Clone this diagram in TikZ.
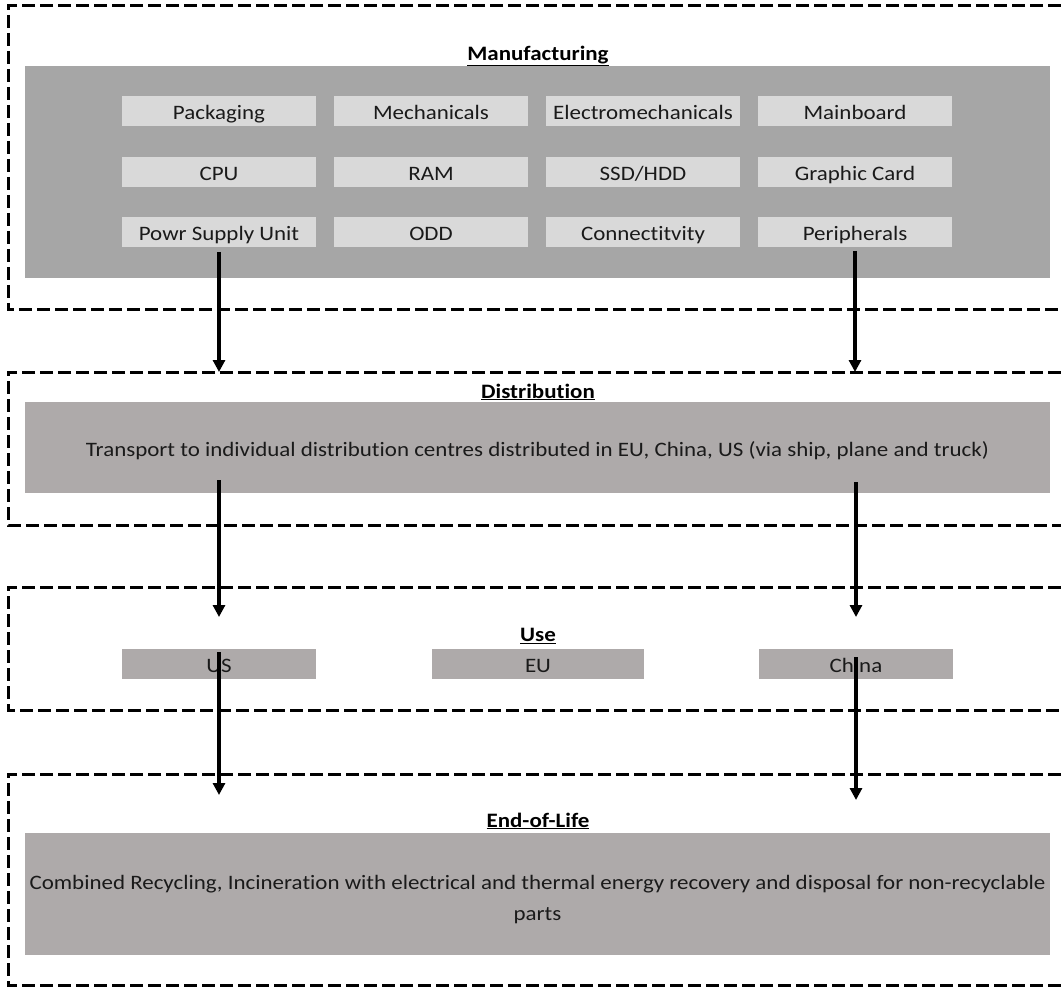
\documentclass[tikz,border=0pt]{standalone}
\usepackage{fontspec}
\setmainfont{Carlito}[FakeStretch=1.12, Ligatures=NoCommon]
\usetikzlibrary{positioning}
\usetikzlibrary{arrows.meta}
\definecolor{mfggray}{HTML}{A6A6A6}
\definecolor{cellgray}{HTML}{D9D9D9}
\definecolor{stagegray}{HTML}{AEAAAA}
\definecolor{inkgray}{HTML}{1A1A1A}
\tikzset{framebox/.style={rectangle, draw=none, minimum width=1053pt, inner sep=0pt, outer sep=0pt, anchor=north west}, frameline/.style={line width=3pt, dash pattern=on 13pt off 5pt}}

\begin{document}
\begin{tikzpicture}[
    x=1pt, y=-1pt,
    node distance=18pt,
    font=\fontsize{20.5}{31}\selectfont,
    cell/.style={rectangle, fill=cellgray, text=inkgray, minimum width=194pt, minimum height=30pt, inner sep=0pt, outer sep=0pt, text height=22pt, text depth=4.5pt},
    stage/.style={rectangle, fill=stagegray, text=inkgray, minimum width=1025pt, inner sep=0pt, outer sep=0pt},
    region/.style={rectangle, fill=stagegray, text=inkgray, minimum height=30pt, inner sep=0pt, outer sep=0pt, text height=22pt, text depth=4.5pt},
    title/.style={font=\fontsize{20.5}{24}\selectfont\bfseries, inner sep=0pt},
    arrow/.style={-{Triangle[width=12pt,length=12pt]}, line width=3.2pt}
]
\useasboundingbox (0,0) rectangle (1061,987);

% Frames
\node[framebox, minimum height=304pt] (mfgframe) at (8,6) {};
\node[framebox, minimum height=153pt] (distframe) at (8,372) {};
\node[framebox, minimum height=123pt] (useframe) at (8,587) {};
\node[framebox, minimum height=211pt] (eolframe) at (8,774) {};
\foreach \f in {mfgframe, distframe, useframe, eolframe}
  \draw[frameline] (\f.north east) -- (\f.north west) -- (\f.south west) -- (\f.south east);

% Manufacturing
\node[title] (mfgtitle) at (538,56) {\underline{Manufacturing}};
\node[rectangle, fill=mfggray, minimum width=1025pt, minimum height=212pt, inner sep=0pt] (mfgbox) at (537.5,172) {};
\node[cell] (packaging) at (219,111) {Packaging};
\node[cell] (mechanicals) [right=of packaging] {Mechanicals};
\node[cell] (electromech) [right=of mechanicals] {Electromechanicals};
\node[cell] (mainboard) [right=of electromech] {Mainboard};
\node[cell] (cpu) [below=31pt of packaging] {CPU};
\node[cell] (ram) [right=of cpu] {RAM};
\node[cell] (storage) [right=of ram] {SSD/HDD};
\node[cell] (graphic) [right=of storage] {Graphic Card};
\node[cell] (psu) [below=30pt of cpu] {Powr Supply Unit};
\node[cell] (odd) [right=of psu] {ODD};
\node[cell] (connect) [right=of odd] {Connectitvity};
\node[cell] (periph) [right=of connect] {Peripherals};

% Distribution
\node[title] (disttitle) at (538,392) {\underline{Distribution}};
\node[stage, minimum height=91pt, text height=22pt, text depth=4.5pt] (distbox) at (537.5,447.5) {Transport to individual distribution centres distributed in EU, China, US (via ship, plane and truck)};

% Use
\node[title] (usetitle) at (538,636) {\underline{Use}};
\node[region, minimum width=194pt] (usa) at (219,664) {US};
\node[region, minimum width=212pt] (eu) at (538,664) {EU};
\node[region, minimum width=194pt] (china) at (856,664) {China};

% End-of-Life
\node[title] (eoltitle) at (538,821) {\underline{End-of-Life}};
\node[stage, minimum height=122pt, align=center] (eolbox) at (537.5,894) {\rule{0pt}{25pt}Combined Recycling, Incineration with electrical and thermal energy recovery and disposal for non-recyclable\\parts};

% Paths
\draw[arrow] ([yshift=-5pt]psu.south) -- (psu.south |- distframe.north);
\draw[arrow] ([yshift=-4pt]periph.south) -- (periph.south |- distframe.north);
\draw[arrow] ([yshift=13pt]usa.north |- distbox.south) -- ([yshift=-30pt]usa.north |- useframe.north);
\draw[arrow] ([yshift=11pt]china.north |- distbox.south) -- ([yshift=-30pt]china.north |- useframe.north);
\draw[arrow] ([yshift=-3pt]usa.north) -- ([yshift=-21pt]usa.north |- eolframe.north);
\draw[arrow] ([yshift=-8pt]china.north) -- ([yshift=-26pt]china.north |- eolframe.north);

\end{tikzpicture}
\end{document}
